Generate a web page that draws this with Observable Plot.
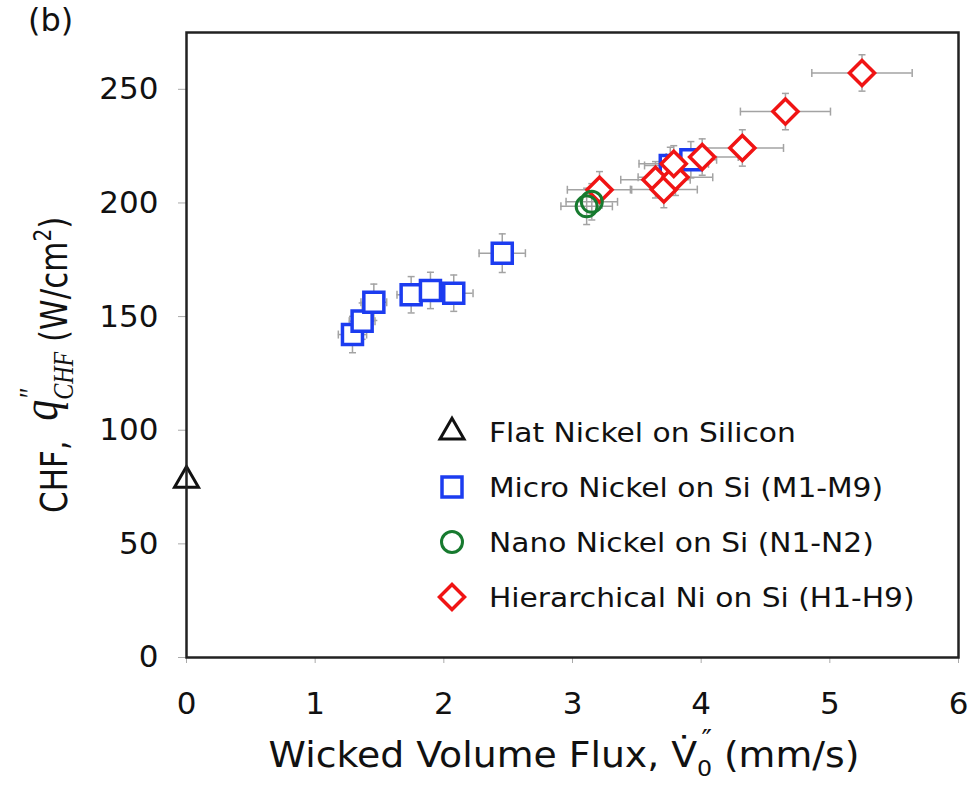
<!DOCTYPE html>
<html><head><meta charset="utf-8">
<script src="https://cdn.jsdelivr.net/npm/d3@7"></script>
<script src="https://cdn.jsdelivr.net/npm/@observablehq/plot@0.6"></script>
<style>body{margin:0;background:#fff;} svg{display:block;}</style>
</head><body><div id="chart"></div>
<script>
// ---- data ----
const flatX = [0];
const flatY = [78];
const microX  = [1.29, 1.365, 1.456, 1.746, 1.896, 2.077, 2.454, 3.76, 3.92];
const microY  = [142.1, 148.0, 156.3, 159.6, 161.5, 160.3, 177.9, 216.5, 219.0];
const microEx = [0.11, 0.10, 0.10, 0.11, 0.12, 0.15, 0.18, 0.20, 0.20];
const microEy = [8, 8, 8, 8, 8, 8, 8.5, 8, 8];
const nanoX  = [3.11, 3.15];
const nanoY  = [198.5, 200.5];
const nanoEx = [0.20, 0.20];
const nanoEy = [8, 8];
const hierX  = [3.21, 3.645, 3.71, 3.80, 3.787, 4.008, 4.32, 4.655, 5.25];
const hierY  = [205.8, 210.2, 205.9, 211.3, 217.2, 220.2, 224.2, 240.2, 257.2];
const hierEx = [0.25, 0.27, 0.26, 0.29, 0.27, 0.28, 0.32, 0.35, 0.39];
const hierEy = [8, 8, 8, 8, 8, 8, 8, 8, 8];
const xTicks = [0, 1, 2, 3, 4, 5, 6];
const yTicks = [0, 50, 100, 150, 200, 250];
const legendLabels = ["Flat Nickel on Silicon", "Micro Nickel on Si (M1-M9)", "Nano Nickel on Si (N1-N2)", "Hierarchical Ni on Si (H1-H9)"];

// ---- build tables ----
const zip = (xs, ys, exs, eys) => xs.map((x, i) => ({x, y: ys[i], ex: exs ? exs[i] : 0, ey: eys ? eys[i] : 0}));
const flat  = zip(flatX, flatY);
const micro = zip(microX, microY, microEx, microEy);
const nano  = zip(nanoX, nanoY, nanoEx, nanoEy);
const hier  = zip(hierX, hierY, hierEx, hierEy);
const errs = [...micro, ...hier, ...nano];

const cBlue = "#1c3cf0", cGreen = "#177a2f", cRed = "#f01414", cBlack = "#111";
const errColor = "#a3a3a3";
const vcap = {draw(ctx) { ctx.moveTo(0, -4); ctx.lineTo(0, 4); }};
const hcap = {draw(ctx) { ctx.moveTo(-3.5, 0); ctx.lineTo(3.5, 0); }};
const diamond = d3.symbolDiamond2 || {draw(ctx, size) { const r = Math.sqrt(size) * 0.62625; ctx.moveTo(0, -r); ctx.lineTo(r, 0); ctx.lineTo(0, r); ctx.lineTo(-r, 0); ctx.closePath(); }};

const svg = Plot.plot({
  width: 979, height: 785,
  marginLeft: 186, marginRight: 21, marginTop: 32, marginBottom: 128,
  style: {fontFamily: "DejaVu Sans", background: "#fff"},
  x: {domain: [0, 6]},
  y: {domain: [0, 275]},
  marks: [
    // error bars
    Plot.ruleY(errs, {y: "y", x1: d => d.x - d.ex, x2: d => d.x + d.ex, stroke: errColor, strokeWidth: 1.5}),
    Plot.ruleX(errs, {x: "x", y1: d => d.y - d.ey, y2: d => d.y + d.ey, stroke: errColor, strokeWidth: 1.5}),
    Plot.dot(errs, {x: d => d.x - d.ex, y: "y", symbol: vcap, stroke: errColor, fill: "none", strokeWidth: 1.5}),
    Plot.dot(errs, {x: d => d.x + d.ex, y: "y", symbol: vcap, stroke: errColor, fill: "none", strokeWidth: 1.5}),
    Plot.dot(errs, {x: "x", y: d => d.y - d.ey, symbol: hcap, stroke: errColor, fill: "none", strokeWidth: 1.5}),
    Plot.dot(errs, {x: "x", y: d => d.y + d.ey, symbol: hcap, stroke: errColor, fill: "none", strokeWidth: 1.5}),
    // axes
    Plot.axisX({ticks: xTicks, tickSize: 6, tickPadding: 28, fontSize: 31, stroke: "#aaa", fill: "#111", label: null, tickFormat: d => String(d)}),
    Plot.axisY({ticks: yTicks, tickSize: 8, tickPadding: 20, fontSize: 31, stroke: "#aaa", fill: "#111", label: null, tickFormat: d => String(d)}),
    // markers
    Plot.dot(flat,  {x: "x", y: "y", symbol: d3.symbolTriangle, r: 8.9, stroke: cBlack, fill: "none", strokeWidth: 3}),
    Plot.dot(micro, {x: "x", y: "y", symbol: d3.symbolSquare, r: 11.3, stroke: cBlue, fill: "white", strokeWidth: 3.5}),
    Plot.dot(hier,  {x: "x", y: "y", symbol: diamond, r: 11.3, stroke: cRed, fill: "white", strokeWidth: 3.5}),
    Plot.dot(nano,  {x: "x", y: "y", symbol: d3.symbolCircle, r: 10.5, stroke: cGreen, fill: "none", strokeWidth: 3}),
    Plot.frame({stroke: "#222", strokeWidth: 2.5})
  ]
});
document.getElementById("chart").appendChild(svg);

const s = d3.select(svg);
// panel label
s.append("text").attr("x", 28).attr("y", 31).attr("text-anchor", "start").attr("font-family", "DejaVu Sans").attr("font-size", 32).attr("fill", "#111").text("(b)");

// x axis label
const xl = s.append("text").attr("transform", "translate(564,767) scale(1.08,1)")
  .attr("text-anchor", "middle").attr("font-family", "DejaVu Sans").attr("font-size", 35).attr("fill", "#111");
xl.append("tspan").text("Wicked Volume Flux, V\u0307");
xl.append("tspan").attr("font-size", 22).attr("dy", 9).text("0");
xl.append("tspan").attr("font-size", 26).attr("dx", -10).attr("dy", -27).text("\u2033");
xl.append("tspan").attr("dy", 18).text(" (mm/s)");

// y axis label
const yl = s.append("text").attr("transform", "translate(67,513) scale(1.2,1) rotate(-90)")
  .attr("text-anchor", "start").attr("font-family", "DejaVu Sans").attr("font-size", 31).attr("fill", "#111");
yl.append("tspan").text("CHF,  ");
yl.append("tspan").attr("font-family", "Liberation Serif").attr("font-style", "italic").attr("font-size", 42).attr("dy", -8).text("q");
yl.append("tspan").attr("font-family", "Liberation Serif").attr("font-style", "italic").attr("font-size", 26).attr("dx", 0).attr("dy", -14).text("\u2033");
yl.append("tspan").attr("font-family", "Liberation Serif").attr("font-style", "italic").attr("font-size", 24).attr("dx", -11).attr("dy", 27).text("CHF");
yl.append("tspan").attr("dy", -5).text(" (W/cm");
yl.append("tspan").attr("font-size", 20).attr("dy", -13).text("2");
yl.append("tspan").attr("dy", 13).text(")");

// legend
const legSyms = [
  {sym: d3.symbolTriangle, size: 249, stroke: cBlack, sw: 3},
  {sym: d3.symbolSquare, size: 400, stroke: cBlue, sw: 3.5},
  {sym: d3.symbolCircle, size: 346, stroke: cGreen, sw: 3},
  {sym: diamond, size: 400, stroke: cRed, sw: 3.5}
];
const legY = [432, 487, 542, 597];
legendLabels.forEach((lab, i) => {
  const g = s.append("g");
  g.append("path").attr("transform", `translate(452,${legY[i]})`)
    .attr("d", d3.symbol(legSyms[i].sym, legSyms[i].size)())
    .attr("fill", "none").attr("stroke", legSyms[i].stroke).attr("stroke-width", legSyms[i].sw);
  g.append("text").attr("transform", `translate(489,${legY[i] + 10}) scale(1.1,1)`)
    .attr("text-anchor", "start").attr("font-family", "DejaVu Sans").attr("font-size", 27).attr("fill", "#111").text(lab);
});
</script>
</body></html>
